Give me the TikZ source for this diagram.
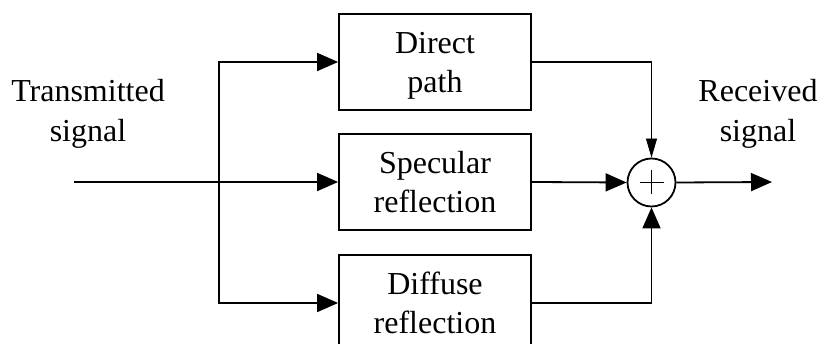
\documentclass[tikz,border=0pt]{standalone}
\usepackage{fontspec}
\setmainfont{Liberation Serif}
\usetikzlibrary{arrows.meta}

\tikzset{
  block/.style={draw, line width=1.8pt, minimum width=192pt, minimum height=96pt,
    align=center, text depth=0pt, font=\fontsize{32}{39}\selectfont},
  label/.style={align=center, font=\fontsize{32}{40}\selectfont},
  sig/.style={line width=1.8pt, -{Triangle[length=21pt,width=18pt]}}
}

\begin{document}
\begin{tikzpicture}[x=1pt,y=1pt]

  \useasboundingbox (0,0) rectangle (821,344);
  \clip (0,0) rectangle (821,344);

  % the three propagation paths
  \node[block] (direct)   at (435,282) {Direct\\path};
  \node[block] (specular) at (435,162) {Specular\\reflection};
  \node[block] (diffuse)  at (435,41)  {Diffuse\\reflection};

  % summing junction
  \node[draw, circle, line width=1.8pt, minimum size=48pt, inner sep=0pt] (sum) at (651.5,161.5) {};
  \draw[line width=1pt] (sum.center) ++(-12,0) -- ++(24,0);
  \draw[line width=1pt] (sum.center) ++(0,-12) -- ++(0,24);

  \node[label] (tx) at (88,230) {Transmitted\\signal};
  \node[label] (rx) at (758,230) {Received\\signal};

  \coordinate (in)    at (74,162);
  \coordinate (split) at (219,162);
  \coordinate (out)   at (772,162);
  \coordinate (turn)  at (sum |- direct.east);

  % input splits into three branches
  \draw[line width=1.8pt] (in) -- (split);
  \draw[sig] (split) -- (specular.west);
  \draw[sig] (split) |- (direct.west);
  \draw[sig] (split) |- (diffuse.west);

  % branches recombine
  \draw[line width=1.8pt] (direct.east) -- (turn);
  \draw[line width=0.7pt, -{Triangle[length=19pt,width=11pt]}] (turn) -- (sum.north);
  \draw[sig] (specular.east) -- (sum.west);
  \draw[sig] (diffuse.east) -| (sum.south);
  \draw[sig] (sum.east) -- (out);
  \end{tikzpicture}
\end{document}
